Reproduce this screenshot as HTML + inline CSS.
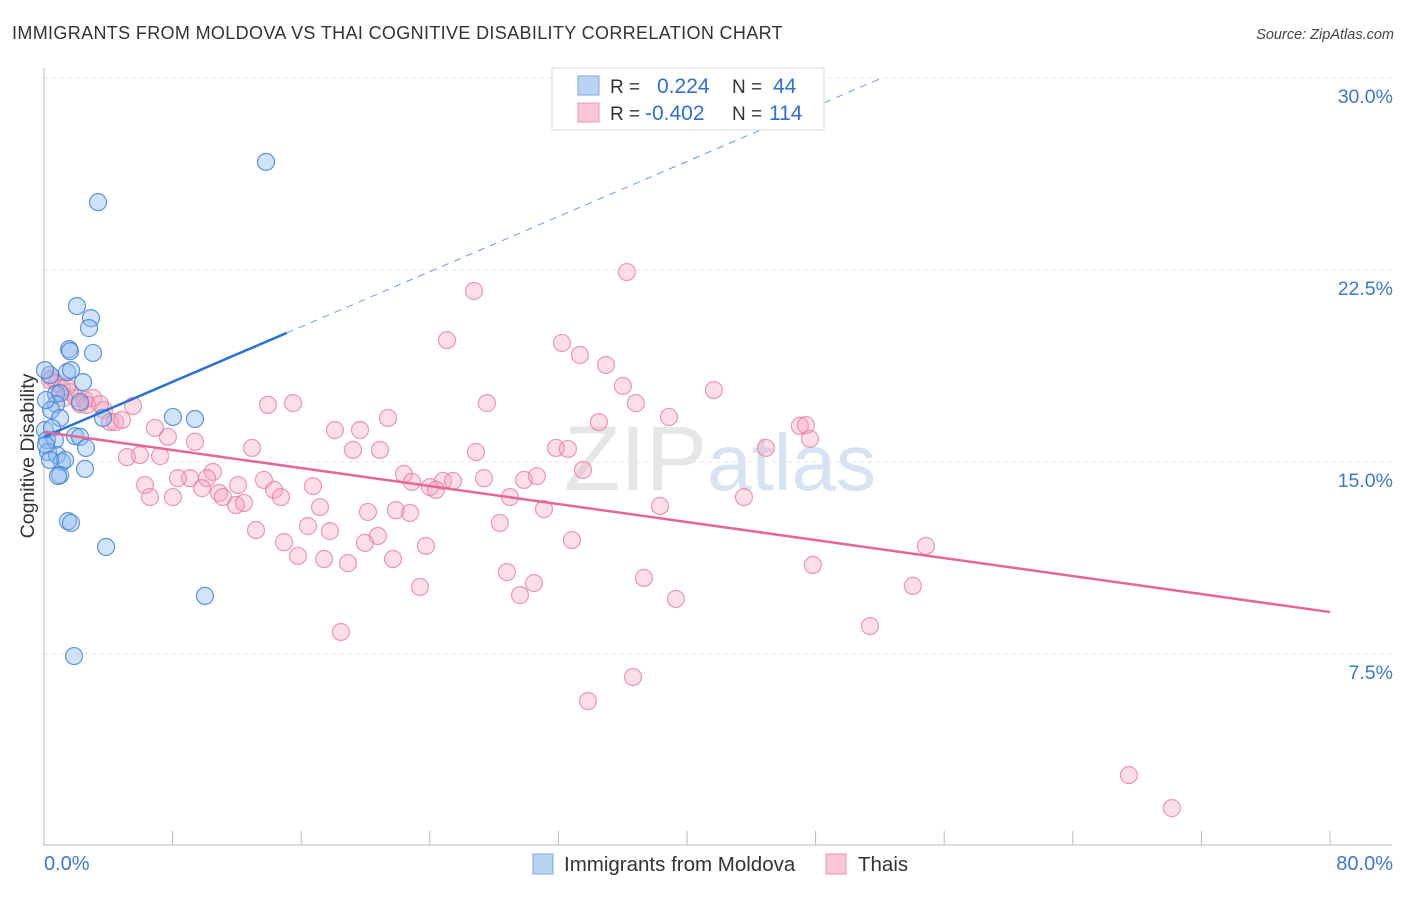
<!DOCTYPE html>
<html><head><meta charset="utf-8"><style>
body{margin:0;background:#fff;font-family:"Liberation Sans",sans-serif;}
svg text{font-family:"Liberation Sans",sans-serif;}
</style></head><body>
<svg id="chart" width="1406" height="892" xmlns="http://www.w3.org/2000/svg">
<text x="12" y="39" font-size="18" letter-spacing="0.35" fill="#333">IMMIGRANTS FROM MOLDOVA VS THAI COGNITIVE DISABILITY CORRELATION CHART</text>
<text x="1394" y="39" font-size="14.5" fill="#444" text-anchor="end" font-style="italic">Source: ZipAtlas.com</text>
<text x="720" y="490" font-size="92" fill="#e6e6e6" text-anchor="middle" font-family="Liberation Serif">ZIP<tspan fill="#d6e3f3" font-family="Liberation Sans" font-size="80">atlas</tspan></text>
<text transform="translate(34,456) rotate(-90)" font-size="19.5" fill="#333" text-anchor="middle">Cognitive Disability</text>
<g id="grid"></g><g id="axes"></g><g id="pink"></g><g id="blue"></g><g id="lines"></g>
<g>
<rect x="552" y="68" width="272" height="62" fill="#fff" stroke="#ddd"/>
<rect x="578" y="76" width="21" height="19" fill="#b9d3f5" stroke="#7aa7e6"/>
<rect x="578" y="103" width="21" height="19" fill="#f9c6d5" stroke="#ec97b3"/>
<text x="610" y="93" font-size="19" fill="#333">R =</text><text x="657" y="93" font-size="21" fill="#2f6fd0">0.224</text>
<text x="732" y="93" font-size="19" fill="#333">N =</text><text x="773" y="93" font-size="21" fill="#2f6fd0">44</text>
<text x="610" y="120" font-size="19" fill="#333">R =</text><text x="645" y="120" font-size="21" fill="#2f6fd0">-0.402</text>
<text x="732" y="120" font-size="19" fill="#333">N =</text><text x="769" y="120" font-size="21" fill="#2f6fd0">114</text>
</g>
<g>
<rect x="533" y="854" width="20" height="20" fill="#b9d3f5" stroke="#7aa7e6"/>
<text x="564" y="871" font-size="20.5" fill="#333">Immigrants from Moldova</text>
<rect x="826" y="854" width="20" height="20" fill="#f9c6d5" stroke="#ec97b3"/>
<text x="858" y="871" font-size="20.5" fill="#333">Thais</text>
</g>
</svg>
<script>
const yTicks=[7.5,15,22.5,30];
const yTickLabels=["7.5%","15.0%","22.5%","30.0%"];
const xTickLabels=["0.0%","80.0%"];
const blueX=[13.81,3.36,2.05,2.92,2.80,1.56,1.62,3.05,1.43,1.68,2.43,0.37,0.06,0.75,1.0,0.75,2.24,0.44,1.0,0.06,0.5,3.67,8.02,9.39,0.19,0.68,1.93,2.24,2.61,0.25,0.81,1.12,1.31,2.55,1.0,0.87,1.49,1.68,3.86,10.01,1.87,0.12,0.37,0.12];
const blueY=[26.72,25.15,21.09,20.62,20.23,19.41,19.33,19.26,18.51,18.59,18.12,18.40,18.59,17.66,17.69,17.26,17.34,17.03,16.72,16.25,16.33,16.72,16.76,16.68,15.86,15.86,16.01,15.98,15.55,15.39,15.27,15.0,15.08,14.73,14.49,14.45,12.69,12.62,11.68,9.77,7.42,15.66,15.08,17.42];
const pinkX=[36.26,26.75,25.07,32.22,33.34,34.96,41.67,36.01,36.82,27.55,13.93,15.49,5.54,21.40,18.10,19.66,34.52,38.88,47.02,47.40,47.65,44.91,31.85,32.59,26.87,20.90,19.22,12.94,9.39,7.71,6.90,5.16,5.97,7.22,10.51,9.08,8.33,10.14,22.39,22.89,24.82,25.44,27.37,29.86,30.66,33.53,24.01,24.38,6.28,6.59,8.02,9.83,10.89,11.13,12.07,11.94,12.44,13.68,14.31,14.74,16.73,17.17,20.15,21.89,22.77,28.99,31.10,38.32,43.54,13.19,16.42,17.79,28.36,14.93,19.97,20.77,23.76,32.84,15.80,17.42,21.71,18.91,54.86,47.83,28.80,30.48,29.61,37.32,39.31,23.39,54.05,18.47,51.38,36.64,33.84,67.49,70.16,0.50,0.81,0.37,1.12,1.62,1.99,2.55,3.05,3.73,4.11,4.42,4.85,1.43,1.24,2.67,2.24,3.48];
const pinkY=[22.42,21.68,19.76,19.65,19.18,18.79,17.81,17.97,17.30,17.30,17.23,17.30,17.19,16.72,16.25,16.25,16.56,16.76,16.41,16.44,15.90,15.55,15.55,15.51,15.39,15.47,15.47,15.55,15.79,15.98,16.33,15.19,15.27,15.23,14.61,14.37,14.37,14.37,14.53,14.22,14.26,14.26,14.37,14.30,14.45,14.69,14.02,13.91,14.10,13.63,13.63,13.98,13.79,13.63,14.10,13.32,13.40,14.30,13.91,13.63,14.06,13.24,13.05,13.12,13.01,13.63,13.16,13.28,13.63,12.34,12.50,12.30,12.62,11.87,11.84,12.11,11.72,11.95,11.33,11.21,11.21,11.05,11.72,10.98,10.70,10.27,9.80,10.47,9.65,10.12,10.16,8.36,8.59,6.60,5.66,2.77,1.48,18.28,18.08,18.20,17.89,17.73,17.50,17.42,17.50,17.03,16.56,16.56,16.64,17.93,17.50,17.23,17.26,17.26];
const blueFit=[15.98,0.269]; // intercept, slope
const pinkFit=[16.17,-0.0879];
const X0=44,X1=1330,Y0=846,PXY=192/7.5;
const sx=v=>X0+(v/80)*(X1-X0), sy=v=>Y0-v*PXY;
const NS="http://www.w3.org/2000/svg";
function mk(tag,parent,attrs){const e=document.createElementNS(NS,tag);for(const k in attrs)e.setAttribute(k,attrs[k]);document.getElementById(parent).appendChild(e);return e;}
yTicks.forEach((t,i)=>{
 const g=mk('line','grid',{x1:X0,x2:1392,y1:sy(t),y2:sy(t),stroke:'#e6e6e6','stroke-dasharray':'4,4'});
 
 
 const l=mk('text','grid',{x:1393,y:sy(t)+25,'font-size':19.5,fill:'#3a78d4','text-anchor':'end'});l.textContent=yTickLabels[i];
 
 
});
const ax=mk('line','axes',{x1:X0,x2:X0,y1:68,y2:846,stroke:'#bbb'});


const bx=mk('line','axes',{x1:X0,x2:1392,y1:845,y2:845,stroke:'#bbb'});


for(let i=0;i<=10;i++){const t=mk('line','axes',{x1:sx(i*8),x2:sx(i*8),y1:831,y2:845,stroke:'#bbb'});
 
 }
const xl0=mk('text','axes',{x:44,y:870,'font-size':20,fill:'#3a78d4'});xl0.textContent=xTickLabels[0];


const xl1=mk('text','axes',{x:1393,y:870,'font-size':20,fill:'#3a78d4','text-anchor':'end'});xl1.textContent=xTickLabels[1];


pinkX.forEach((x,i)=>{const c=mk('circle','pink',{cx:sx(x),cy:sy(pinkY[i]),r:8.5,fill:'rgba(243,160,187,0.35)',stroke:'rgba(232,120,158,0.75)','stroke-width':1.2});
 
 });
blueX.forEach((x,i)=>{const c=mk('circle','blue',{cx:sx(x),cy:sy(blueY[i]),r:8.5,fill:'rgba(140,185,240,0.4)',stroke:'rgba(60,125,215,0.8)','stroke-width':1.2});
 
 });
const fb=x=>blueFit[0]+blueFit[1]*x, fp=x=>pinkFit[0]+pinkFit[1]*x;
const bl=mk('line','lines',{x1:sx(0),y1:sy(fb(0)),x2:sx(15.1),y2:sy(fb(15.1)),stroke:'#2a6fd6','stroke-width':2.5});


const bd=mk('line','lines',{x1:sx(15.1),y1:sy(fb(15.1)),x2:sx(52),y2:sy(fb(52)),stroke:'#6b9be0','stroke-width':1,'stroke-dasharray':'7,6'});


const pl=mk('line','lines',{x1:sx(0),y1:sy(fp(0)),x2:sx(80),y2:sy(fp(80)),stroke:'#e5679a','stroke-width':2.5});


</script>
</body></html>
